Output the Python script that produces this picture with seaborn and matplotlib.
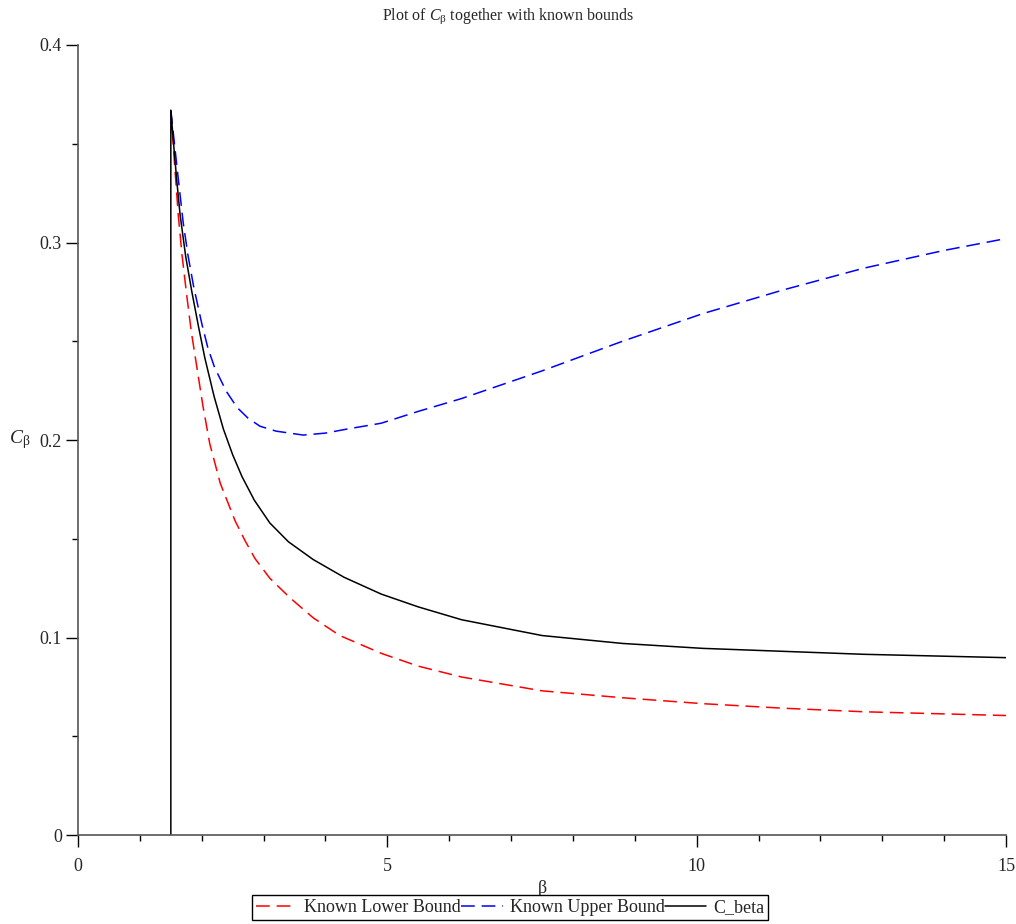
import numpy as np
import pandas as pd
import seaborn as sns
import matplotlib.pyplot as plt
from matplotlib.ticker import MultipleLocator

# values
beta_c = [1.5, 1.5, 1.55, 1.6, 1.65, 1.74, 1.84, 1.95, 2.05, 2.2, 2.35, 2.5, 2.65, 2.85, 3.1, 3.4,
          3.8, 4.3, 4.9, 5.5, 6.2, 7.5, 8.8, 10.1, 11.4, 12.7, 15.0]
c_beta = [0.0, 0.367, 0.348, 0.330, 0.314, 0.293, 0.275, 0.257, 0.2415, 0.222, 0.2055, 0.1925,
          0.1815, 0.1695, 0.158, 0.1485, 0.1395, 0.1305, 0.122, 0.1155, 0.109, 0.101, 0.097,
          0.0945, 0.093, 0.0915, 0.0898]

beta_lo = [1.5, 1.56, 1.62, 1.68, 1.75, 1.83, 1.92, 2.02, 2.13, 2.3, 2.54, 2.7, 2.86, 3.1, 3.43,
           3.8, 4.23, 4.9, 5.5, 6.2, 7.5, 8.8, 10.1, 11.4, 12.7, 15.0]
lower = [0.367, 0.340, 0.314, 0.294, 0.275, 0.255, 0.237, 0.217, 0.198, 0.178, 0.159, 0.149, 0.140,
         0.130, 0.120, 0.110, 0.101, 0.092, 0.0855, 0.080, 0.073, 0.0695, 0.0665, 0.0642, 0.0624,
         0.0605]

beta_up = [1.5, 1.6, 1.7, 1.78, 1.87, 2.0, 2.1, 2.21, 2.4, 2.57, 2.75, 2.94, 3.2, 3.64, 4.0, 4.34,
           4.9, 5.5, 6.2, 7.5, 8.8, 10.1, 11.4, 12.7, 14.0, 15.0]
upper = [0.367, 0.338, 0.310, 0.293, 0.2775, 0.259, 0.2465, 0.2365, 0.2245, 0.2165, 0.211, 0.207,
         0.2045, 0.2025, 0.2035, 0.2055, 0.2085, 0.2145, 0.221, 0.235, 0.250, 0.264, 0.276, 0.287,
         0.296, 0.302]

sns.set_style("ticks")
plt.rcParams["font.family"] = ["Liberation Serif", "DejaVu Serif"]
plt.rcParams["mathtext.fontset"] = "custom"
plt.rcParams["mathtext.rm"] = "Liberation Serif"
plt.rcParams["mathtext.it"] = "Liberation Serif:italic"

fig = plt.figure(figsize=(10.16, 9.24), dpi=100)
ax = fig.add_axes([0.0768, 0.0963, 0.9134, 0.855])

lw = 1.1
dash = (9, 4.5)
sns.lineplot(x=beta_lo, y=lower, ax=ax, color="red", lw=lw, estimator=None, sort=False,
             label="Known Lower Bound")
ax.lines[-1].set_dashes(dash)
sns.lineplot(x=beta_up, y=upper, ax=ax, color="blue", lw=lw, estimator=None, sort=False,
             label="Known Upper Bound")
ax.lines[-1].set_dashes(dash)
sns.lineplot(x=beta_c, y=c_beta, ax=ax, color="black", lw=lw, estimator=None, sort=False,
             label="C_beta")

ax.set_xlim(0, 15)
ax.set_ylim(0, 0.4)
ax.xaxis.set_major_locator(MultipleLocator(5))
ax.xaxis.set_minor_locator(MultipleLocator(1))
ax.yaxis.set_major_locator(MultipleLocator(0.1))
ax.yaxis.set_minor_locator(MultipleLocator(0.05))
ax.set_yticks([0, 0.1, 0.2, 0.3, 0.4])
ax.set_yticklabels(["0", "0.1", "0.2", "0.3", "0.4"])
ax.tick_params(which="major", length=8.5, width=1, color="black", labelsize=13)
ax.tick_params(which="minor", length=4, width=1, color="black")
ax.tick_params(axis="x", which="major", pad=8)
ax.tick_params(axis="y", which="major", pad=3)

sns.despine(ax=ax)
for s in ["left", "bottom"]:
    ax.spines[s].set_color("#555555")
    ax.spines[s].set_linewidth(1.2)

ax.set_xlabel("β", fontsize=13)
ax.xaxis.set_label_coords(0.5, -0.057)
ax.set_ylabel(r"$C_{\mathregular{β}}$", fontsize=14, rotation=0, ha="center", va="center")
ax.yaxis.set_label_coords(-0.063, 0.5)

fig.text(0.5, 0.982, r"Plot of $C_{\mathregular{β}}$ together with known bounds",
         ha="center", va="center", fontsize=11.5)

ax.get_legend().remove()
handles, labels = ax.get_legend_handles_labels()
leg = fig.legend(handles, labels, loc="upper center", bbox_to_anchor=(0.502, 0.031),
                 ncol=3, fontsize=13, frameon=True, fancybox=False, framealpha=1,
                 edgecolor="black", handlelength=2.3, handletextpad=0.4,
                 columnspacing=0.0, borderpad=0.2, borderaxespad=0)
leg.get_frame().set_linewidth(1.0)

fig.savefig("out.png", dpi=100)
